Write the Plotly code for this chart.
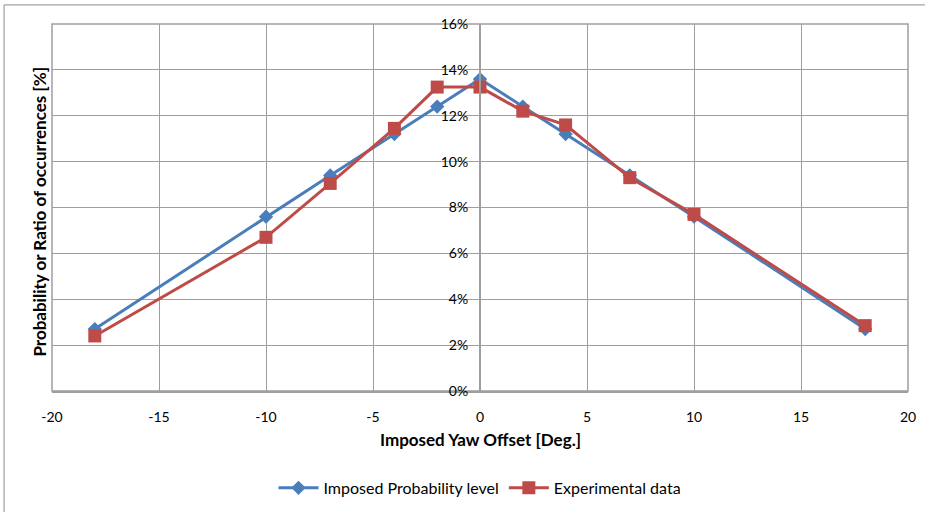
import plotly.graph_objects as go

# Yaw offsets [deg]
yaw_offset = [-18, -10, -7, -4, -2, 0, 2, 4, 7, 10, 18]
# Probability / ratio of occurrences [%]
imposed_probability = [2.7, 7.6, 9.4, 11.2, 12.4, 13.6, 12.4, 11.2, 9.4, 7.6, 2.7]
experimental_data = [2.4, 6.7, 9.05, 11.45, 13.25, 13.25, 12.2, 11.6, 9.3, 7.7, 2.85]

x_ticks = [-20, -15, -10, -5, 0, 5, 10, 15, 20]
x_tick_text = [str(v) for v in x_ticks]  # plain hyphen minus
y_ticks = [0, 2, 4, 6, 8, 10, 12, 14, 16]
y_tick_text = [f"{v}%" for v in y_ticks]

FONT = "Lato, Carlito, Calibri, sans-serif"
BLUE = "#4A7EBB"
RED = "#BE4B48"
GRID = "#9E9E9E"

fig = go.Figure()
fig.add_trace(go.Scatter(
    x=yaw_offset, y=imposed_probability, mode="lines+markers",
    name="Imposed Probability level",
    line=dict(color=BLUE, width=3),
    marker=dict(symbol="diamond", size=11, color=BLUE),
))
fig.add_trace(go.Scatter(
    x=yaw_offset, y=experimental_data, mode="lines+markers",
    name="Experimental data",
    line=dict(color=RED, width=3),
    marker=dict(symbol="square", size=13, color=RED),
))

fig.update_layout(
    width=925, height=512,
    margin=dict(l=52, r=17, t=24, b=121, autoexpand=False),
    paper_bgcolor="white", plot_bgcolor="white",
    font=dict(family=FONT, size=14, color="#000000"),
    showlegend=True,
    legend=dict(
        orientation="h", x=0.5, xanchor="center", y=-0.264, yanchor="middle",
        font=dict(family=FONT, size=16), itemwidth=40, tracegroupgap=0,
    ),
    xaxis=dict(
        range=[-20, 20], tickvals=x_ticks, ticktext=x_tick_text,
        showgrid=True, gridcolor=GRID, gridwidth=1,
        zeroline=False, showline=True, linecolor=GRID, linewidth=1.5,
        ticks="", ticklabelstandoff=12, tickfont=dict(size=14),
    ),
    yaxis=dict(
        range=[0, 16], tickvals=y_ticks, ticktext=y_tick_text,
        showgrid=True, gridcolor=GRID, gridwidth=1, zeroline=False,
        anchor="free", position=0.5, showline=True, linecolor=GRID, linewidth=2,
        ticks="", ticklabelstandoff=8, tickfont=dict(size=14),
    ),
    shapes=[
        # plot area frame
        dict(type="rect", xref="paper", yref="paper", x0=0, x1=1, y0=0, y1=1,
             line=dict(color=GRID, width=1.5), layer="below"),
        # chart area frame
        dict(type="rect", xref="paper", yref="paper", x0=-0.056, x1=1.03, y0=-0.4, y1=1.052,
             line=dict(color="#8C8C8C", width=1)),
    ],
    annotations=[
        dict(text="<b>Imposed Yaw Offset [Deg.]</b>", xref="paper", yref="paper",
             x=0.5, y=-0.1335, showarrow=False, font=dict(family=FONT, size=17),
             xanchor="center", yanchor="middle"),
        dict(text="<b>Probability or Ratio of occurrences [%]</b>", xref="paper", yref="paper",
             x=-0.014, y=0.489, showarrow=False, textangle=-90,
             font=dict(family=FONT, size=17), xanchor="center", yanchor="middle"),
    ],
)

fig.write_html("out.html")
